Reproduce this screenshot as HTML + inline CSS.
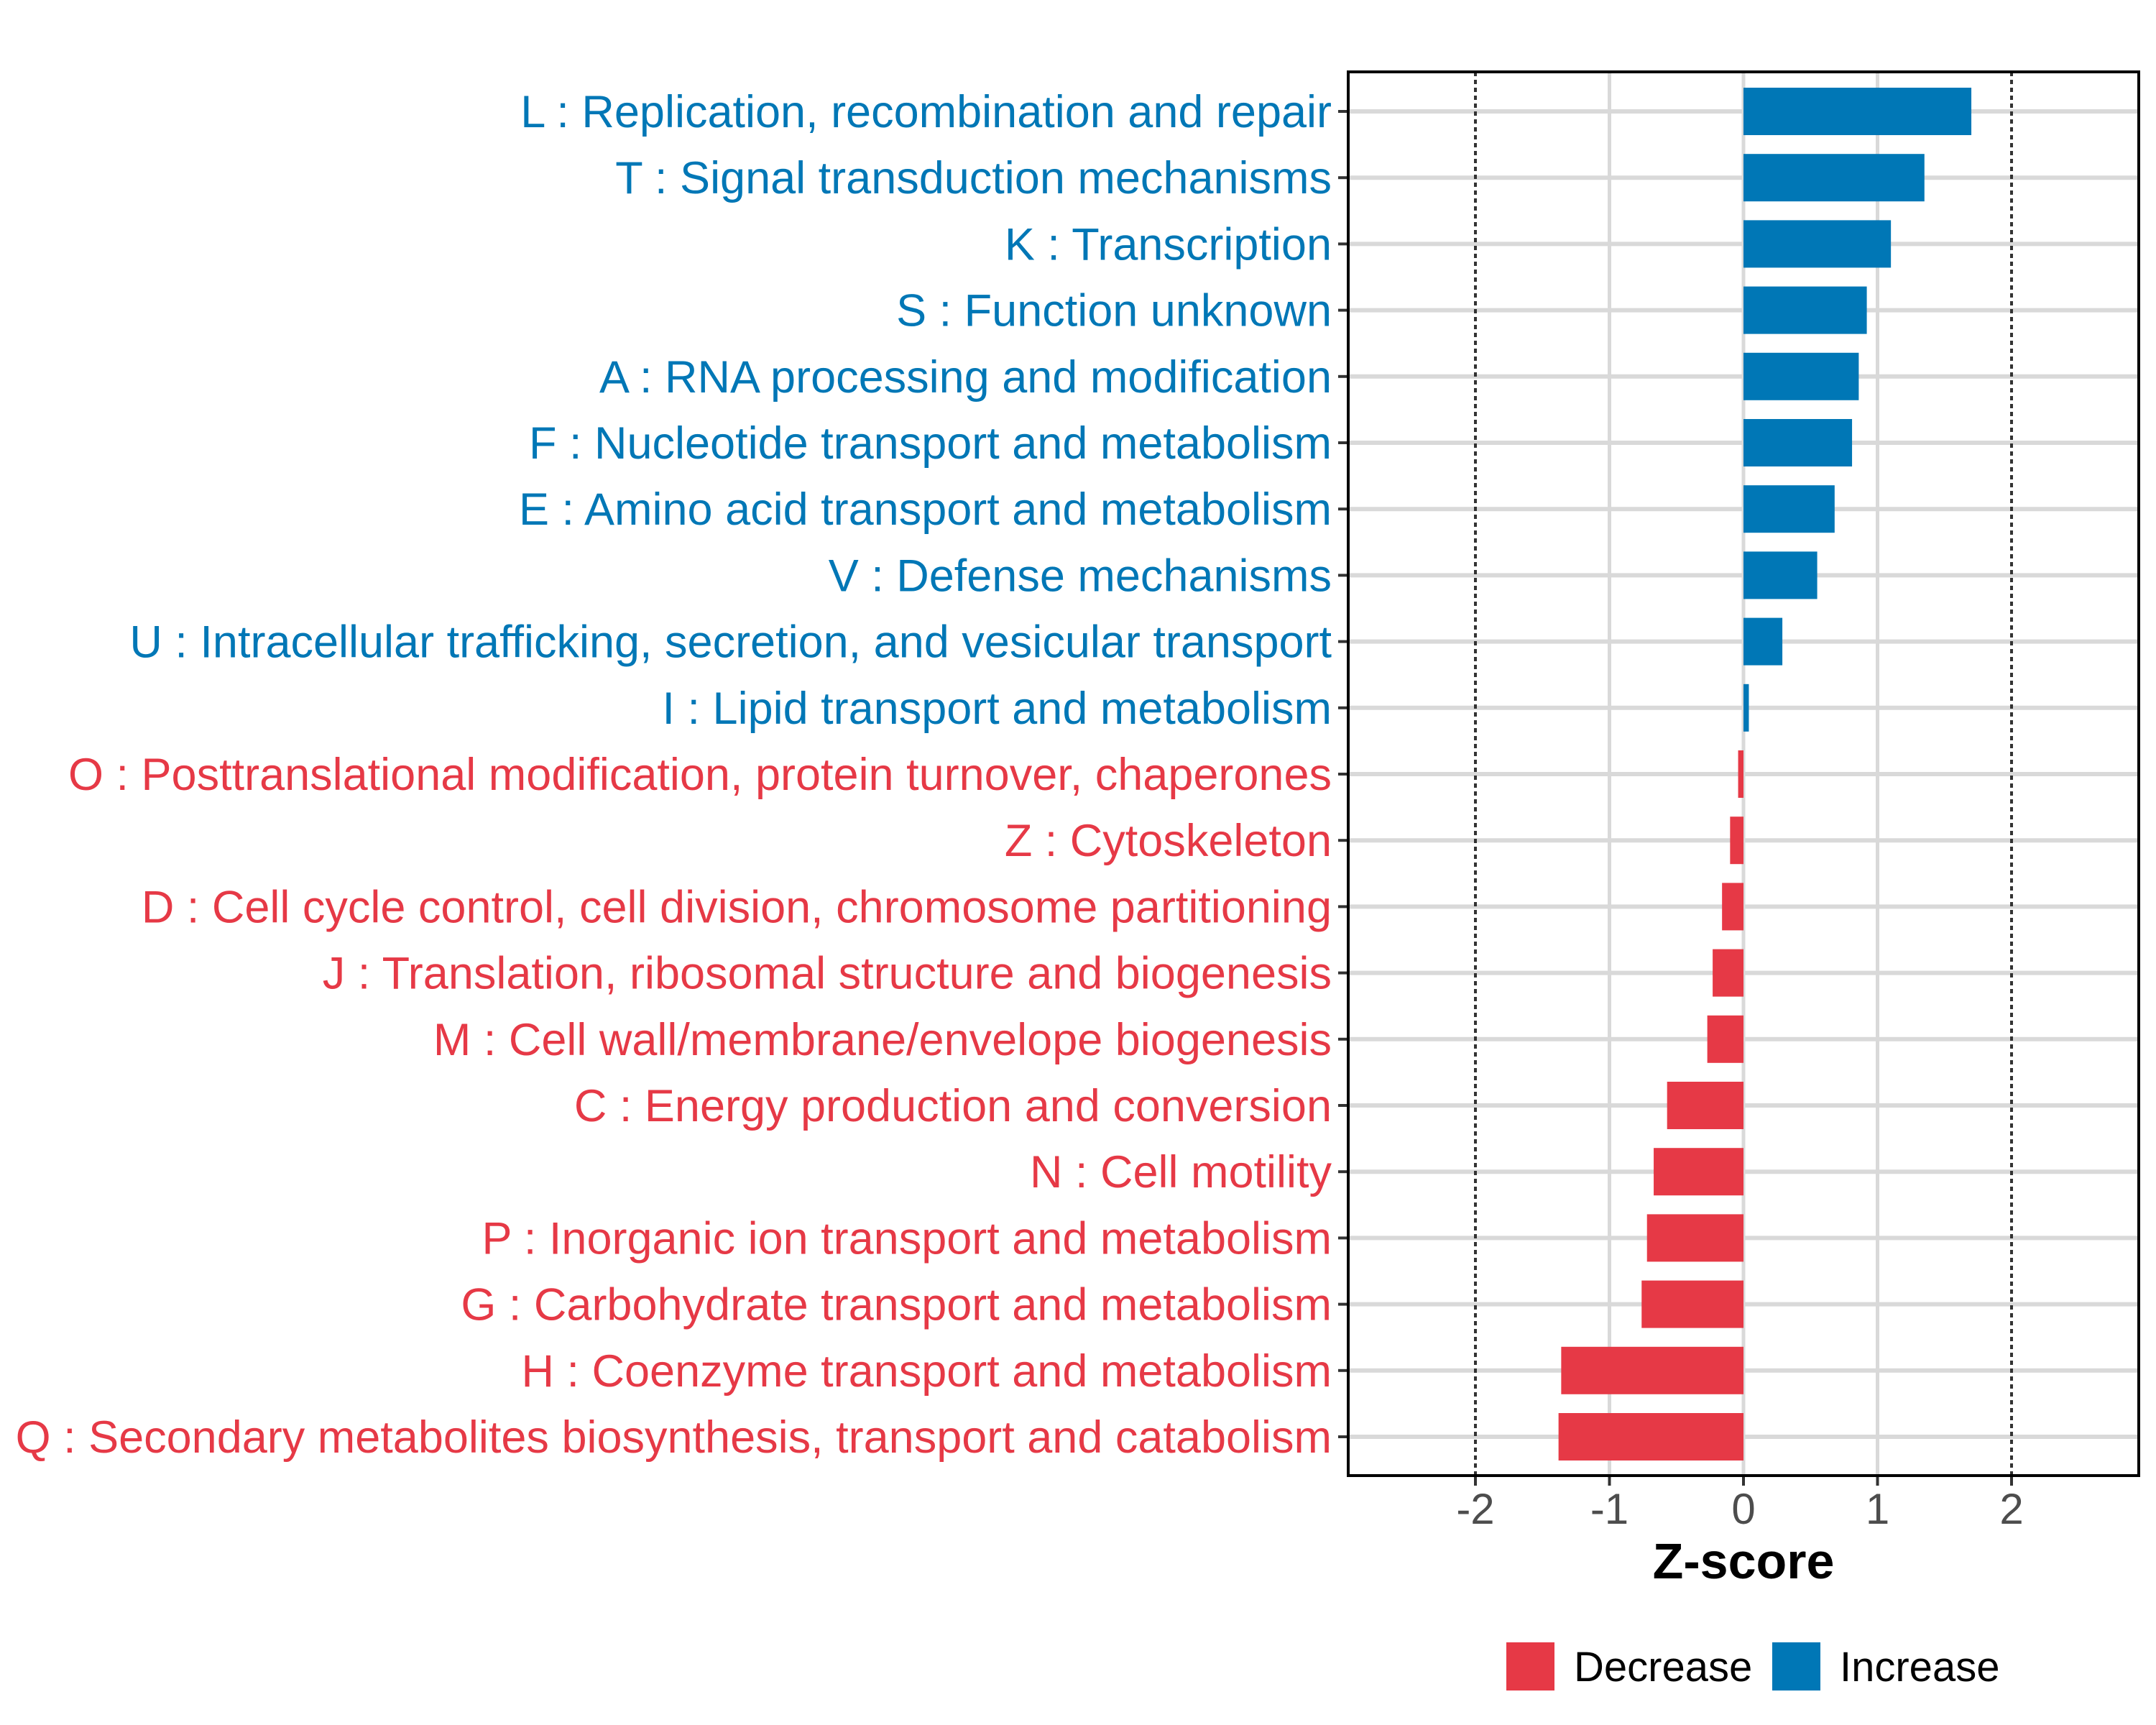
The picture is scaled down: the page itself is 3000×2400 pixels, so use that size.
<!DOCTYPE html>
<html><head><meta charset="utf-8"><style>
html,body{margin:0;padding:0;background:#fff}
svg{display:block;font-family:"Liberation Sans",Arial,sans-serif}
</style></head><body>
<svg id="chart" width="3000" height="2400" viewBox="0 0 3000 2400" xmlns="http://www.w3.org/2000/svg">
<rect width="3000" height="2400" fill="#fff"/>
<g id="grid"></g>
<g id="bars"></g>
<g id="ylabels"></g>
<g id="xaxis"></g>
<rect x="1876" y="100" width="1100" height="1953" fill="none" stroke="#000" stroke-width="4"/>
<text x="2426" y="2196" text-anchor="middle" font-size="70" font-weight="bold" fill="#000">Z-score</text>
<g>
<rect x="2096" y="2285" width="67" height="67" fill="#E63946"/>
<text x="2190" y="2339" font-size="58" fill="#000">Decrease</text>
<rect x="2466" y="2285" width="67" height="67" fill="#0077B6"/>
<text x="2560" y="2339" font-size="58" fill="#000">Increase</text>
</g>
</svg>
<script>
const categories = ["L : Replication, recombination and repair","T : Signal transduction mechanisms","K : Transcription","S : Function unknown","A : RNA processing and modification","F : Nucleotide transport and metabolism","E : Amino acid transport and metabolism","V : Defense mechanisms","U : Intracellular trafficking, secretion, and vesicular transport","I : Lipid transport and metabolism","O : Posttranslational modification, protein turnover, chaperones","Z : Cytoskeleton","D : Cell cycle control, cell division, chromosome partitioning","J : Translation, ribosomal structure and biogenesis","M : Cell wall/membrane/envelope biogenesis","C : Energy production and conversion","N : Cell motility","P : Inorganic ion transport and metabolism","G : Carbohydrate transport and metabolism","H : Coenzyme transport and metabolism","Q : Secondary metabolites biosynthesis, transport and catabolism"];
const zscores = [1.70,1.35,1.10,0.92,0.86,0.81,0.68,0.55,0.29,0.04,-0.04,-0.10,-0.16,-0.23,-0.27,-0.57,-0.67,-0.72,-0.76,-1.36,-1.38];
const xTicks = [-2,-1,0,1,2];
const xTickLabels = ["-2","-1","0","1","2"];
const refLines = [-2,2];

const NS="http://www.w3.org/2000/svg";
const X0=2426, UNIT=186.5, Y0=155, STEP=92.2, BARH=66, PL=1876, PR=2976, PT=100, PB=2053;
const xs=v=>X0+v*UNIT;
const ys=i=>Y0+i*STEP;
function mk(tag,attrs,parent){const e=document.createElementNS(NS,tag);for(const k in attrs)e.setAttribute(k,attrs[k]);parent.appendChild(e);return e;}
const grid=document.getElementById('grid'),bars=document.getElementById('bars'),yl=document.getElementById('ylabels'),xa=document.getElementById('xaxis');
xTicks.forEach((t,i)=>{
  if(refLines.indexOf(t)<0){const l=mk('line',{x1:xs(t),x2:xs(t),y1:PT,y2:PB,stroke:'#D9D9D9','stroke-width':5},grid);
  
  }
  const tk=mk('line',{x1:xs(t),x2:xs(t),y1:PB,y2:PB+14,stroke:'#333','stroke-width':4},xa);
  
  
  const tx=mk('text',{x:xs(t),y:2120,'text-anchor':'middle','font-size':60,fill:'#4D4D4D'},xa);
  tx.textContent=xTickLabels[i];
  
  
});
categories.forEach((c,i)=>{
  const g=mk('line',{x1:PL,x2:PR,y1:ys(i),y2:ys(i),stroke:'#D9D9D9','stroke-width':6},grid);
  
  
});
refLines.forEach(r=>{
  const l=mk('line',{x1:xs(r),x2:xs(r),y1:PT,y2:PB,stroke:'#333','stroke-width':4,'stroke-dasharray':'6,5'},grid);
  
  
});
categories.forEach((c,i)=>{
  const v=zscores[i], col=v>=0?'#0077B6':'#E63946';
  const b=mk('rect',{x:Math.min(xs(0),xs(v)),y:ys(i)-BARH/2,width:Math.abs(xs(v)-xs(0)),height:BARH,fill:col},bars);
  
  
  const tk=mk('line',{x1:PL-14,x2:PL,y1:ys(i),y2:ys(i),stroke:'#333','stroke-width':4},yl);
  
  
  const t=mk('text',{x:1853,y:ys(i)+22,'text-anchor':'end','font-size':63,fill:col},yl);
  t.textContent=c;
  
  
});
</script>
</body></html>
